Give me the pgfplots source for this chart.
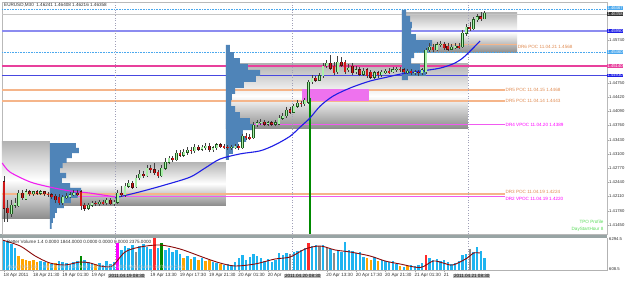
\documentclass[border=0pt]{standalone}
\usepackage{fontspec}
\setmainfont{Liberation Sans}
\usepackage{pgfplots}
\pgfplotsset{compat=1.18}
\usepackage{pgfplotstable}
\definecolor{bullfill}{HTML}{A8F0A8}
\definecolor{bulledge}{HTML}{1E5A1E}
\definecolor{bearfill}{HTML}{D01818}
\definecolor{bearedge}{HTML}{501010}
\definecolor{wick}{HTML}{404040}
\definecolor{prof}{HTML}{4F84B8}
\definecolor{boxtop}{HTML}{B4B4B4}
\definecolor{boxbot}{HTML}{8E8E8E}
\definecolor{pocor}{HTML}{F5B58A}
\definecolor{poctxt}{HTML}{E08A50}
\definecolor{vpoc}{HTML}{F05AF0}
\definecolor{ltblue}{HTML}{4AA8EE}
\definecolor{lavblue}{HTML}{8C8CF0}
\definecolor{hotpink}{HTML}{E8409C}
\definecolor{midblue}{HTML}{4848E0}
\definecolor{mablue}{HTML}{1E1EE6}
\definecolor{mamag}{HTML}{F020F0}
\definecolor{rectc}{HTML}{EE72EE}
\definecolor{vblue}{HTML}{1EB4F0}
\definecolor{vorange}{HTML}{FFA500}
\definecolor{vred}{HTML}{FF2A2A}
\definecolor{vgreen}{HTML}{008A00}
\definecolor{vgray}{HTML}{8A8A8A}
\definecolor{vmag}{HTML}{FF00FF}
\definecolor{vma}{HTML}{8B0A0A}
\definecolor{sepgray}{HTML}{98A4A4}
\definecolor{sepline}{HTML}{A0A0B8}
\definecolor{txt}{HTML}{303030}
\definecolor{tpo}{HTML}{5ADC5A}
\newcommand\tf{\fontsize{4.6}{5}\selectfont}
\newcommand\tfs{\fontsize{4.2}{4.6}\selectfont}

\pgfplotstableread{
i o h l c
0 1.4245 1.4259 1.4152 1.4184
1 1.4184 1.4203 1.4152 1.4173
2 1.4171 1.4203 1.4164 1.4191
3 1.4191 1.4208 1.4184 1.4196
4 1.4189 1.4226 1.4187 1.4219
5 1.4219 1.4226 1.4203 1.4208
6 1.4205 1.4229 1.4203 1.4222
7 1.4222 1.4226 1.4212 1.4217
8 1.4217 1.4224 1.4212 1.4222
9 1.4222 1.4226 1.4215 1.4219
10 1.4219 1.4226 1.4215 1.4222
11 1.4222 1.4224 1.4212 1.4217
12 1.4217 1.4222 1.4210 1.4215
13 1.4215 1.4219 1.4205 1.4212
14 1.4212 1.4217 1.4196 1.4203
15 1.4210 1.4217 1.4191 1.4196
16 1.4196 1.4215 1.4191 1.4210
17 1.4210 1.4219 1.4205 1.4212
18 1.4212 1.4222 1.4208 1.4215
19 1.4215 1.4226 1.4212 1.4219
20 1.4219 1.4226 1.4212 1.4217
21 1.4222 1.4226 1.4180 1.4189
22 1.4191 1.4196 1.4177 1.4184
23 1.4184 1.4196 1.4180 1.4191
24 1.4191 1.4201 1.4187 1.4196
25 1.4196 1.4201 1.4189 1.4194
26 1.4194 1.4203 1.4189 1.4198
27 1.4198 1.4203 1.4191 1.4196
28 1.4196 1.4208 1.4191 1.4203
29 1.4203 1.4208 1.4191 1.4194
30 1.4194 1.4203 1.4189 1.4198
31 1.4198 1.4226 1.4194 1.4219
32 1.4219 1.4235 1.4210 1.4215
33 1.4215 1.4242 1.4210 1.4235
34 1.4235 1.4249 1.4231 1.4242
35 1.4242 1.4247 1.4229 1.4233
36 1.4233 1.4261 1.4231 1.4254
37 1.4254 1.4273 1.4249 1.4263
38 1.4263 1.4270 1.4254 1.4259
39 1.4259 1.4284 1.4256 1.4277
40 1.4277 1.4284 1.4266 1.4273
41 1.4273 1.4289 1.4261 1.4266
42 1.4268 1.4273 1.4254 1.4259
43 1.4259 1.4284 1.4256 1.4277
44 1.4277 1.4300 1.4273 1.4291
45 1.4291 1.4305 1.4287 1.4300
46 1.4300 1.4305 1.4291 1.4296
47 1.4296 1.4319 1.4293 1.4312
48 1.4312 1.4319 1.4303 1.4307
49 1.4307 1.4321 1.4303 1.4314
50 1.4314 1.4326 1.4307 1.4319
51 1.4319 1.4326 1.4310 1.4317
52 1.4317 1.4333 1.4312 1.4326
53 1.4326 1.4331 1.4317 1.4321
54 1.4321 1.4331 1.4317 1.4326
55 1.4326 1.4335 1.4319 1.4328
56 1.4328 1.4335 1.4314 1.4319
57 1.4319 1.4328 1.4314 1.4324
58 1.4324 1.4335 1.4319 1.4331
59 1.4331 1.4335 1.4324 1.4328
60 1.4328 1.4333 1.4321 1.4326
61 1.4326 1.4331 1.4319 1.4324
62 1.4324 1.4331 1.4319 1.4326
63 1.4326 1.4333 1.4321 1.4328
64 1.4328 1.4333 1.4319 1.4324
65 1.4324 1.4356 1.4321 1.4351
66 1.4351 1.4358 1.4342 1.4349
67 1.4349 1.4356 1.4342 1.4347
68 1.4347 1.4384 1.4345 1.4377
69 1.4377 1.4389 1.4372 1.4382
70 1.4382 1.4391 1.4377 1.4384
71 1.4384 1.4389 1.4375 1.4379
72 1.4379 1.4386 1.4375 1.4382
73 1.4382 1.4386 1.4375 1.4379
74 1.4379 1.4389 1.4375 1.4382
75 1.4379 1.4400 1.4377 1.4393
76 1.4393 1.4405 1.4389 1.4398
77 1.4398 1.4419 1.4393 1.4412
78 1.4412 1.4419 1.4403 1.4407
79 1.4407 1.4426 1.4405 1.4421
80 1.4421 1.4435 1.4416 1.4428
81 1.4428 1.4433 1.4419 1.4426
82 1.4426 1.4440 1.4421 1.4435
83 1.4430 1.4481 1.4426 1.4477
84 1.4477 1.4493 1.4472 1.4486
85 1.4486 1.4491 1.4477 1.4481
86 1.4481 1.4498 1.4479 1.4491
87 1.4491 1.4521 1.4486 1.4514
88 1.4514 1.4528 1.4509 1.4521
89 1.4521 1.4539 1.4505 1.4509
90 1.4514 1.4523 1.4493 1.4498
91 1.4500 1.4537 1.4495 1.4523
92 1.4523 1.4535 1.4512 1.4516
93 1.4523 1.4528 1.4495 1.4500
94 1.4505 1.4519 1.4500 1.4509
95 1.4514 1.4521 1.4493 1.4498
96 1.4500 1.4514 1.4495 1.4505
97 1.4505 1.4512 1.4491 1.4495
98 1.4495 1.4509 1.4491 1.4502
99 1.4505 1.4509 1.4486 1.4491
100 1.4500 1.4505 1.4484 1.4488
101 1.4488 1.4502 1.4484 1.4498
102 1.4498 1.4502 1.4486 1.4493
103 1.4493 1.4505 1.4488 1.4500
104 1.4500 1.4507 1.4495 1.4502
105 1.4502 1.4509 1.4495 1.4500
106 1.4500 1.4512 1.4498 1.4505
107 1.4505 1.4512 1.4500 1.4507
108 1.4507 1.4512 1.4500 1.4505
109 1.4505 1.4509 1.4495 1.4500
110 1.4500 1.4507 1.4495 1.4502
111 1.4502 1.4507 1.4493 1.4498
112 1.4498 1.4505 1.4493 1.4500
113 1.4500 1.4505 1.4491 1.4498
114 1.4498 1.4509 1.4493 1.4505
115 1.4500 1.4556 1.4495 1.4551
116 1.4551 1.4567 1.4546 1.4558
117 1.4558 1.4565 1.4546 1.4551
118 1.4551 1.4570 1.4549 1.4563
119 1.4563 1.4572 1.4558 1.4565
120 1.4565 1.4570 1.4551 1.4556
121 1.4560 1.4567 1.4549 1.4553
122 1.4553 1.4565 1.4551 1.4558
123 1.4558 1.4567 1.4553 1.4560
124 1.4560 1.4567 1.4553 1.4558
125 1.4558 1.4597 1.4556 1.4590
126 1.4590 1.4611 1.4583 1.4604
127 1.4604 1.4616 1.4595 1.4600
128 1.4600 1.4628 1.4597 1.4621
129 1.4621 1.4635 1.4616 1.4628
130 1.4628 1.4639 1.4618 1.4623
131 1.4624 1.4641 1.4622 1.4636
}\candles

\pgfplotstableread{
i v k
0 6000 1
1 5800 1
2 5200 1
3 4400 1
4 2800 2
5 2200 2
6 2000 2
7 1800 2
8 2000 2
9 1600 2
10 1800 1
11 1600 1
12 1400 2
13 1200 1
14 1400 2
15 1800 1
16 1600 1
17 1400 1
18 1200 1
19 1600 1
20 1800 1
21 2800 4
22 2000 1
23 1600 1
24 1400 1
25 1200 2
26 1400 1
27 1000 1
28 1800 1
29 1200 1
30 1600 1
31 5400 6
32 4000 1
33 4800 1
34 4400 1
35 5000 1
36 3600 5
37 4800 1
38 5200 1
39 4600 1
40 4200 1
41 6400 3
42 4400 1
43 5400 4
44 4000 1
45 4400 1
46 3600 1
47 4000 1
48 3200 1
49 2400 2
50 2800 1
51 2200 2
52 2600 1
53 2000 2
54 2400 1
55 1800 2
56 2000 2
57 1600 1
58 1400 1
59 1200 2
60 1000 1
61 1200 1
62 1000 1
63 1600 1
64 2400 1
65 3000 1
66 2000 1
67 2600 1
68 3200 1
69 2800 1
70 2400 1
71 1800 1
72 2200 1
73 1600 1
74 2000 1
75 3400 1
76 3000 1
77 3400 1
78 3200 5
79 3600 1
80 3800 1
81 4000 1
82 4400 1
83 5400 3
84 4800 1
85 5000 1
86 4800 5
87 5000 1
88 4400 5
89 4200 1
90 3400 5
91 4000 1
92 3600 1
93 5600 1
94 4000 1
95 3800 1
96 3400 1
97 3600 1
98 2600 1
99 2400 2
100 2000 2
101 2600 1
102 1800 2
103 2000 1
104 1800 1
105 1600 1
106 1800 1
107 1200 1
108 800 2
109 600 1
110 800 2
111 1000 1
112 800 1
113 1000 1
114 1400 1
115 3000 3
116 2400 1
117 2000 1
118 2200 1
119 1800 1
120 2000 1
121 1600 1
122 1200 1
123 1400 1
124 1800 1
125 3000 1
126 3200 1
127 4200 5
128 3600 1
129 4600 1
130 3800 1
131 2400 1
}\vol

\begin{document}
\begin{tikzpicture}[x=1pt,y=1pt]
\path[use as bounding box] (0,0) rectangle (625,282);
\fill[white] (0,0) rectangle (625,282);
\fill[sepgray] (0,44) rectangle (607,48);

\begin{axis}[
  at={(2pt,48pt)}, anchor=south west, scale only axis,
  width=605pt, height=232pt,
  xmin=-0.55, xmax=164.4, ymin=1.41241, ymax=1.46624,
  clip mode=individual,
  axis line style={draw=gray!55},
  xtick=\empty,
  ytick={1.4145,1.4178,1.4211,1.4244,1.4277,1.4310,1.4343,1.4376,1.4409,1.4442,1.4475,1.4574},
  ytick pos=right, yticklabel pos=right, tick align=outside,
  major tick length=1.5pt, tick style={draw=gray!70},
  scaled y ticks=false,
  yticklabel style={font=\tfs, text=txt, inner sep=0.5pt,
    /pgf/number format/.cd, fixed, fixed zerofill, precision=5},
  /pgf/number format/assume math mode=true,
]
% session boxes
\addplot[draw=none, top color=boxtop, bottom color=boxbot, middle color=white] coordinates {(-0.55,1.4338) (12.5,1.4338) (12.5,1.4161) (-0.55,1.4161) (-0.55,1.4338)};
\addplot[draw=none, top color=boxtop, bottom color=boxbot, middle color=white] coordinates {(12.5,1.4291) (60.5,1.4291) (60.5,1.4191) (12.5,1.4191) (12.5,1.4291)};
\addplot[draw=none, top color=boxtop, bottom color=boxbot, middle color=white] coordinates {(60.5,1.4519) (126.5,1.4519) (126.5,1.4370) (60.5,1.4370) (60.5,1.4519)};
\addplot[draw=none, top color=boxtop, bottom color=boxbot, middle color=white] coordinates {(108.5,1.4639) (139.9,1.4639) (139.9,1.4546) (108.5,1.4546) (108.5,1.4639)};
% horizontal levels
\addplot[ltblue, densely dotted, line width=0.6pt] coordinates {(-0.55,1.4646) (164.4,1.4646)};
\addplot[gray!45, line width=0.6pt] coordinates {(-0.55,1.4635) (164.4,1.4635)};
\addplot[lavblue, line width=1.1pt] coordinates {(-0.55,1.4595) (164.4,1.4595)};
\addplot[ltblue, densely dotted, line width=0.6pt] coordinates {(-0.55,1.4546) (164.4,1.4546)};
\addplot[hotpink, line width=1.1pt] coordinates {(-0.55,1.4514) (164.4,1.4514)};
\addplot[midblue, line width=0.8pt] coordinates {(-0.55,1.4493) (164.4,1.4493)};
\addplot[pocor, line width=1.1pt] coordinates {(108.5,1.4563) (139.9,1.4563)};
\addplot[pocor, line width=1.3pt] coordinates {(-0.55,1.4458) (136.6,1.4458)};
\addplot[pocor, line width=1.3pt] coordinates {(-0.55,1.4433) (136.6,1.4433)};
\addplot[vpoc, line width=1pt] coordinates {(60.5,1.4379) (136.6,1.4379)};
\addplot[pocor, line width=1.1pt] coordinates {(-0.55,1.4217) (136.6,1.4217)};
\addplot[vpoc, line width=1pt] coordinates {(12.5,1.4210) (136.6,1.4210)};
% magenta zone
\addplot[fill=rectc, draw=none] coordinates {(81.3,1.4460) (99.5,1.4460) (99.5,1.4433) (81.3,1.4433) (81.3,1.4460)};
% TPO profiles
\addplot[fill=prof, draw=none] coordinates {(12.5,1.4335) (19.6,1.4335) (19.6,1.4324) (20.4,1.4324) (20.4,1.4312) (18.5,1.4312) (18.5,1.4300) (17.1,1.4300) (17.1,1.4289) (16.0,1.4289) (16.0,1.4277) (15.2,1.4277) (15.2,1.4266) (16.9,1.4266) (16.9,1.4254) (15.8,1.4254) (15.8,1.4242) (18.0,1.4242) (18.0,1.4231) (21.0,1.4231) (21.0,1.4219) (20.1,1.4219) (20.1,1.4208) (18.2,1.4208) (18.2,1.4196) (16.3,1.4196) (16.3,1.4184) (14.4,1.4184) (14.4,1.4173) (13.9,1.4173) (13.9,1.4161) (13.3,1.4161) (13.3,1.4150) (13.0,1.4150) (13.0,1.4136) (12.5,1.4136)};
\addplot[fill=prof, draw=none] coordinates {(60.5,1.4563) (61.6,1.4563) (61.6,1.4546) (62.7,1.4546) (62.7,1.4532) (64.3,1.4532) (64.3,1.4519) (66.5,1.4519) (66.5,1.4505) (69.8,1.4505) (69.8,1.4491) (68.7,1.4491) (68.7,1.4477) (65.4,1.4477) (65.4,1.4463) (63.0,1.4463) (63.0,1.4449) (62.1,1.4449) (62.1,1.4435) (61.9,1.4435) (61.9,1.4421) (63.0,1.4421) (63.0,1.4407) (64.3,1.4407) (64.3,1.4393) (67.0,1.4393) (67.0,1.4379) (68.1,1.4379) (68.1,1.4365) (65.1,1.4365) (65.1,1.4351) (66.0,1.4351) (66.0,1.4338) (63.8,1.4338) (63.8,1.4324) (62.4,1.4324) (62.4,1.4310) (61.3,1.4310) (61.3,1.4296) (60.5,1.4296)};
\addplot[fill=prof, draw=none] coordinates {(108.5,1.4644) (109.6,1.4644) (109.6,1.4630) (110.7,1.4630) (110.7,1.4616) (111.2,1.4616) (111.2,1.4602) (111.0,1.4602) (111.0,1.4588) (112.3,1.4588) (112.3,1.4574) (116.7,1.4574) (116.7,1.4560) (115.6,1.4560) (115.6,1.4546) (111.8,1.4546) (111.8,1.4532) (111.0,1.4532) (111.0,1.4519) (113.4,1.4519) (113.4,1.4505) (115.0,1.4505) (115.0,1.4491) (110.1,1.4491) (110.1,1.4481) (108.5,1.4481)};
% day separators
\addplot[sepline, dotted, line width=0.6pt] coordinates {(30.3,1.41241) (30.3,1.46624)};
\addplot[sepline, dotted, line width=0.6pt] coordinates {(78.5,1.41241) (78.5,1.46624)};
\addplot[sepline, dotted, line width=0.6pt] coordinates {(126.5,1.41241) (126.5,1.46624)};
% green marker line
\addplot[vgreen, line width=1.2pt] coordinates {(83.4,1.4440) (83.4,1.41241)};
% VWAP-like curves
\addplot[mamag, line width=1.1pt, smooth] coordinates {(-0.5,1.4289) (1.6,1.4268) (7.1,1.4245) (12.5,1.4233) (18,1.4224) (23.5,1.4219) (30.3,1.4210)};
\addplot[mablue, line width=1.1pt, smooth] coordinates {(30.3,1.4208) (37.1,1.4222) (43.9,1.4238) (50.7,1.4256) (54.8,1.4277) (58.9,1.4298) (64.4,1.4310) (69.8,1.4317) (73.9,1.4331) (78,1.4351) (80.7,1.4372) (83.4,1.4393) (86.2,1.4421) (89.7,1.4444) (94.4,1.4463) (99.8,1.4479) (104.4,1.4488) (108,1.4495) (113.5,1.4502) (118.9,1.4509) (123,1.4521) (125.7,1.4537) (129.8,1.4572)};
% candles: wicks
\addplot[draw=none, mark=none, error bars/.cd, y dir=both, y explicit, error mark=none,
  error bar style={draw=wick, solid, line width=0.6pt}]
  table[x=i, y expr={(\thisrow{h}+\thisrow{l})/2}, y error expr={(\thisrow{h}-\thisrow{l})/2}] {\candles};
% bull bodies
\addplot[draw=none, mark=none, restrict expr to domain={\thisrow{c}-\thisrow{o}}{0:1},
  error bars/.cd, y dir=both, y explicit, error mark=none,
  error bar style={draw=bulledge, solid, line width=2.7pt}]
  table[x=i, y expr={(\thisrow{o}+\thisrow{c})/2}, y error expr={abs(\thisrow{c}-\thisrow{o})/2+0.0001}] {\candles};
\addplot[draw=none, mark=none, restrict expr to domain={\thisrow{c}-\thisrow{o}}{0:1},
  error bars/.cd, y dir=both, y explicit, error mark=none,
  error bar style={draw=bullfill, solid, line width=1.7pt}]
  table[x=i, y expr={(\thisrow{o}+\thisrow{c})/2}, y error expr={max(abs(\thisrow{c}-\thisrow{o})/2,0.00003)}] {\candles};
% bear bodies
\addplot[draw=none, mark=none, restrict expr to domain={\thisrow{c}-\thisrow{o}}{-1:-0.00001},
  error bars/.cd, y dir=both, y explicit, error mark=none,
  error bar style={draw=bearedge, solid, line width=2.7pt}]
  table[x=i, y expr={(\thisrow{o}+\thisrow{c})/2}, y error expr={abs(\thisrow{c}-\thisrow{o})/2+0.0001}] {\candles};
\addplot[draw=none, mark=none, restrict expr to domain={\thisrow{c}-\thisrow{o}}{-1:-0.00001},
  error bars/.cd, y dir=both, y explicit, error mark=none,
  error bar style={draw=bearfill, solid, line width=1.7pt}]
  table[x=i, y expr={(\thisrow{o}+\thisrow{c})/2}, y error expr={abs(\thisrow{c}-\thisrow{o})/2}] {\candles};
% level labels
\node[anchor=west, font=\tf, text=poctxt, inner sep=0.5pt] at (axis cs:139.9,1.4558) {DR6 POC 11.04.21 1.4568};
\node[anchor=west, font=\tf, text=poctxt, inner sep=0.5pt] at (axis cs:136.6,1.4458) {DR5 POC 11.04.15 1.4468};
\node[anchor=west, font=\tf, text=poctxt, inner sep=0.5pt] at (axis cs:136.6,1.4433) {DR5 POC 11.04.14 1.4443};
\node[anchor=west, font=\tf, text=vmag, inner sep=0.5pt] at (axis cs:136.6,1.4377) {DR4 VPOC 11.04.20 1.4389};
\node[anchor=west, font=\tf, text=poctxt, inner sep=0.3pt] at (axis cs:136.6,1.4222) {DR3 POC 11.04.19 1.4224};
\node[anchor=west, font=\tf, text=vmag, inner sep=0.3pt] at (axis cs:136.6,1.4206) {DR2 VPOC 11.04.19 1.4220};
\node[anchor=east, font=\tf, text=tpo, inner sep=0.5pt] at (axis cs:163.6,1.4152) {TPO Profile};
\node[anchor=east, font=\tf, text=tpo, inner sep=0.5pt] at (axis cs:163.6,1.4136) {DayStartHour 8};
% price boxes on the scale
\node[anchor=west, fill=ltblue, text=white, font=\tfs, inner sep=0.3pt] at (axis cs:164.4,1.4648) {1.46467};
\node[anchor=west, fill=txt, text=white, font=\tfs, inner sep=0.3pt] at (axis cs:164.4,1.4634) {1.46358};
\node[anchor=west, fill=mablue, text=white, font=\tfs, inner sep=0.3pt] at (axis cs:164.4,1.4595) {1.45950};
\node[anchor=west, fill=ltblue, text=white, font=\tfs, inner sep=0.3pt] at (axis cs:164.4,1.4546) {1.45460};
\node[anchor=west, fill=hotpink, text=white, font=\tfs, inner sep=0.3pt] at (axis cs:164.4,1.4514) {1.45140};
\node[anchor=west, fill=mablue, text=white, font=\tfs, inner sep=0.3pt] at (axis cs:164.4,1.4492) {1.44930};
\end{axis}

\begin{axis}[
  at={(2pt,12pt)}, anchor=south west, scale only axis,
  width=605pt, height=32pt,
  xmin=-0.55, xmax=164.4, ymin=0, ymax=6400,
  clip mode=individual,
  axis line style={draw=none},
  ytick=\empty,
  xtick={0,8,16,24,40,48,56,64,72,88,96,104,112,120},
  xticklabels={18 Apr 2011,18 Apr 21:30,19 Apr 01:30,19 Apr,19 Apr 13:30,19 Apr 17:30,19 Apr 21:30,20 Apr 01:30,20 Apr,20 Apr 13:30,20 Apr 17:30,20 Apr 21:30,21 Apr 01:30,21},
  xtick pos=bottom, tick align=outside, major tick length=1.5pt,
  xtick style={draw=gray!70},
  xticklabel style={font=\tf, text=txt, anchor=north west, inner sep=0.5pt, xshift=-1pt, yshift=-0.8pt},
]
\addplot[sepline, dotted, line width=0.6pt] coordinates {(30.3,0) (30.3,6400)};
\addplot[sepline, dotted, line width=0.6pt] coordinates {(78.5,0) (78.5,6400)};
\addplot[sepline, dotted, line width=0.6pt] coordinates {(126.5,0) (126.5,6400)};
\addplot[ycomb, draw=vblue, line width=2.5pt, restrict expr to domain={\thisrow{k}}{0.5:1.5}] table[x=i, y=v] {\vol};
\addplot[ycomb, draw=vorange, line width=2.5pt, restrict expr to domain={\thisrow{k}}{1.5:2.5}] table[x=i, y=v] {\vol};
\addplot[ycomb, draw=vred, line width=2.5pt, restrict expr to domain={\thisrow{k}}{2.5:3.5}] table[x=i, y=v] {\vol};
\addplot[ycomb, draw=vgreen, line width=2.5pt, restrict expr to domain={\thisrow{k}}{3.5:4.5}] table[x=i, y=v] {\vol};
\addplot[ycomb, draw=vgray, line width=2.5pt, restrict expr to domain={\thisrow{k}}{4.5:5.5}] table[x=i, y=v] {\vol};
\addplot[ycomb, draw=vmag, line width=2.5pt, restrict expr to domain={\thisrow{k}}{5.5:6.5}] table[x=i, y=v] {\vol};
\addplot[vma, line width=0.9pt, smooth] coordinates {(-0.5,6000) (4.4,4800) (8.5,2800) (12.5,1400) (16.6,1000) (20.7,1600) (23.5,1400) (26.2,800) (29.5,800) (33,3600) (37.1,4600) (42.5,5000) (48,4200) (54.8,2400) (58.9,1400) (63,800) (68.4,1200) (73.9,2200) (78,2600) (82.1,4200) (86.2,4800) (90.3,4000) (94.4,3600) (99.8,2800) (103.9,1800) (108,1200) (113.5,500) (117,1800) (119.7,1400) (122.4,1000) (126.3,2400) (128,3400) (129.8,3400)};
\end{axis}

% frame and panel decorations
\draw[gray!60, line width=0.6pt] (607,11) -- (607,44);
\draw[gray!60, line width=0.8pt] (0,11.3) -- (607,11.3);
\draw[gray!60, line width=0.6pt] (2,11) -- (2,44);
\node[anchor=west, font=\tf, text=txt, inner sep=0pt] at (4,276.5) {EURUSD,M30\ \ 1.46241 1.46408 1.46216 1.46358};
\node[anchor=west, font=\tf, text=txt, inner sep=0pt] at (7,40) {Better Volume 1.4 0.0000 1844.0000 0.0000 0.0000 0.0000 2375.0000};
\node[anchor=west, font=\tf, text=gray!45, inner sep=0pt] at (7,14.5) {Alpari (UK) Ltd. - MetaTrader 4.00 Build 2011 © 2001-2011 MetaQuotes Software Corp.};
\node[anchor=west, font=\tfs, text=txt, inner sep=0pt] at (609,42.5) {6294.5};
\node[anchor=west, font=\tfs, text=txt, inner sep=0pt] at (609,13) {608.5};
\node[anchor=west, fill=gray!55, text=black, font=\tf, inner sep=0.8pt] at (108,6) {2011.04.19 08:30};
\node[anchor=west, fill=gray!55, text=black, font=\tf, inner sep=0.8pt] at (284,6) {2011.04.20 08:30};
\node[anchor=west, fill=gray!55, text=black, font=\tf, inner sep=0.8pt] at (453,6) {2011.04.21 08:30};
\end{tikzpicture}
\end{document}
